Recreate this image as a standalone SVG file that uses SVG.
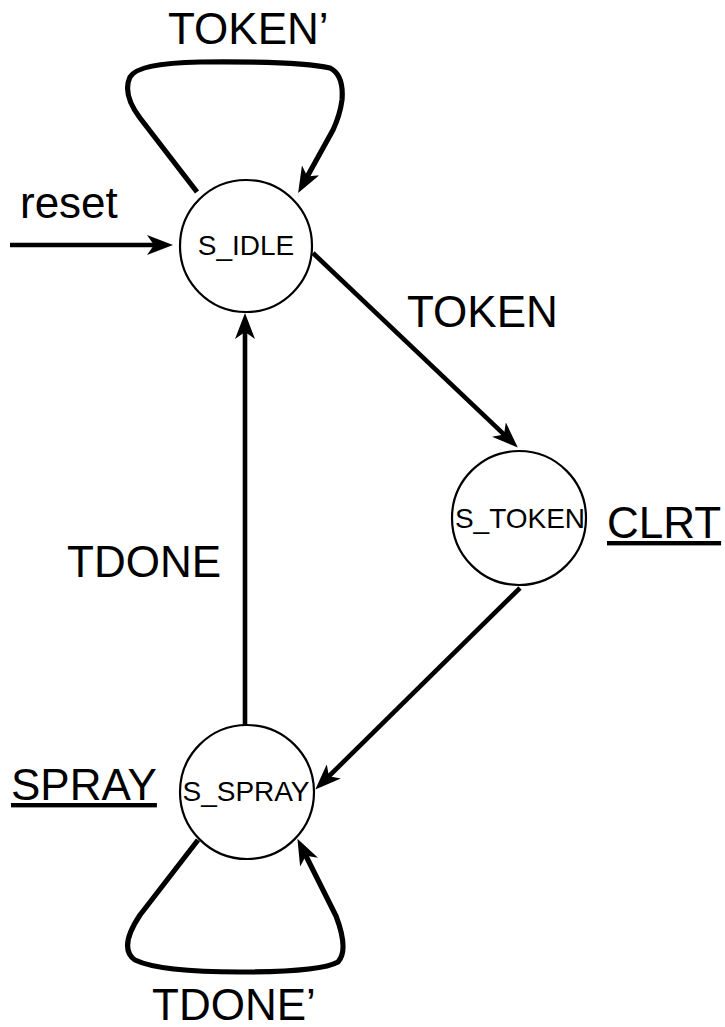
<svg xmlns="http://www.w3.org/2000/svg" width="725" height="1027" viewBox="0 0 725 1027">
  <style>
    .state { fill: #ffffff; stroke: #000000; stroke-width: 2.2; }
    .state-label { font-family: "Liberation Sans", Arial, sans-serif; font-size: 28px; fill: #000000; text-anchor: middle; }
    .edge { fill: none; stroke: #000000; stroke-width: 4.6; }
    .loop { fill: none; stroke: #000000; stroke-width: 5.2; stroke-linejoin: round; }
    .edge-label { font-family: "Liberation Sans", Arial, sans-serif; font-size: 44px; fill: #000000; }
    .output { text-decoration: underline; }
  </style>
  <defs>
    <marker id="arrow" viewBox="0 0 26 20" markerWidth="26" markerHeight="20" refX="18" refY="10" orient="auto" markerUnits="userSpaceOnUse">
      <path d="M0,0 L26,10 L0,20 L7,10 Z" fill="#000000"/>
    </marker>
  </defs>

  <!-- transitions -->
  <g id="connectors">
    <!-- reset entry -->
    <line class="edge" x1="10" y1="245" x2="165" y2="245" marker-end="url(#arrow)"/>
    <!-- TOKEN' self loop on S_IDLE -->
    <path class="loop" d="M197,192 L140,118 Q122,94 130,77 Q138,63 200,62 Q300,61 330,68 Q344,75 342,100 Q340,115 333,130 L302,186" marker-end="url(#arrow)"/>
    <!-- TOKEN: S_IDLE to S_TOKEN -->
    <line class="edge" x1="313" y1="253" x2="512" y2="442" marker-end="url(#arrow)"/>
    <!-- S_TOKEN to S_SPRAY -->
    <line class="edge" x1="520" y1="588" x2="321" y2="784" marker-end="url(#arrow)"/>
    <!-- TDONE: S_SPRAY to S_IDLE -->
    <line class="edge" x1="245" y1="725" x2="245" y2="321" marker-end="url(#arrow)"/>
    <!-- TDONE' self loop on S_SPRAY -->
    <path class="loop" d="M198,840 L140,915 Q118,948 135,960 Q160,972 240,972 Q320,972 338,962 Q349,950 336,916 L301,846" marker-end="url(#arrow)"/>
  </g>

  <g id="s_idle">
    <circle class="state" cx="246" cy="246" r="66"/>
    <text class="state-label" x="246" y="255">S_IDLE</text>
  </g>

  <g id="s_token">
    <circle class="state" cx="519" cy="518" r="67"/>
    <text class="state-label" x="520" y="528">S_TOKEN</text>
  </g>

  <g id="s_spray">
    <circle class="state" cx="247" cy="792" r="67"/>
    <text class="state-label" x="246" y="801">S_SPRAY</text>
  </g>

  <g id="labels">
    <text class="edge-label" x="168" y="44">TOKEN’</text>
    <text class="edge-label" x="20" y="218">reset</text>
    <text class="edge-label" x="407" y="327">TOKEN</text>
    <text class="edge-label" x="67" y="577">TDONE</text>
    <text class="edge-label output" x="607" y="538">CLRT</text>
    <text class="edge-label output" x="11" y="800">SPRAY</text>
    <text class="edge-label" x="152" y="1020">TDONE’</text>
  </g>
</svg>
